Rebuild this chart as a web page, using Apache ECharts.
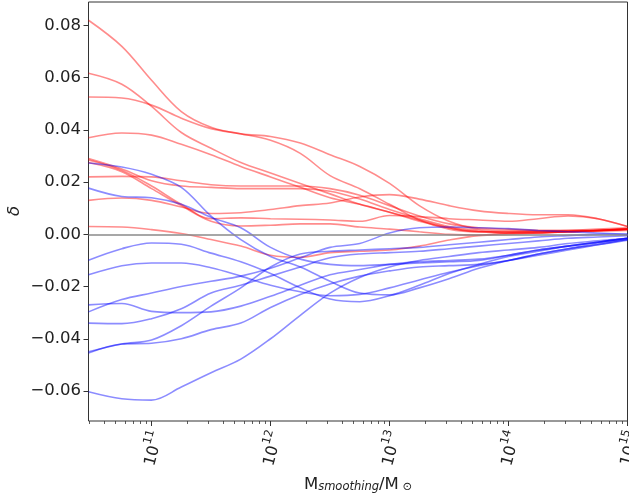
<!DOCTYPE html>
<html>
<head>
<meta charset="utf-8">
<script src="https://cdn.jsdelivr.net/npm/echarts@6/dist/echarts.min.js"></script>
<style>
html,body{margin:0;padding:0;background:#fff;}
#chart{width:629px;height:499px;}
</style>
</head>
<body>
<div id="chart"></div>
<script>
// x: log10(M_smoothing / M_sun)
var logMass = [10.47, 10.75, 11.0, 11.25, 11.5, 11.75, 12.0, 12.25, 12.5, 12.75, 13.0, 13.25, 13.5, 13.75, 14.0, 14.25, 14.5, 14.75, 15.0];

// red curves (delta)
var red1  = [0.0820, 0.0720, 0.0590, 0.0470, 0.0410, 0.0385, 0.0375, 0.0350, 0.0305, 0.0260, 0.0195, 0.0110, 0.0050, 0.0020, 0.0015, 0.0015, 0.0015, 0.0015, 0.0020];
var red2  = [0.0617, 0.0575, 0.0490, 0.0390, 0.0330, 0.0275, 0.0235, 0.0195, 0.0155, 0.0115, 0.0085, 0.0050, 0.0025, 0.0010, 0.0010, 0.0010, 0.0010, 0.0015, 0.0020];
var red3  = [0.0526, 0.0522, 0.0495, 0.0445, 0.0405, 0.0385, 0.0360, 0.0310, 0.0225, 0.0175, 0.0115, 0.0055, 0.0020, 0.0010, 0.0010, 0.0010, 0.0010, 0.0015, 0.0020];
var red4  = [0.0370, 0.0388, 0.0380, 0.0345, 0.0305, 0.0260, 0.0220, 0.0180, 0.0140, 0.0115, 0.0085, 0.0055, 0.0025, 0.0010, 0.0005, 0.0005, 0.0010, 0.0015, 0.0020];
var red5  = [0.0290, 0.0250, 0.0205, 0.0185, 0.0180, 0.0175, 0.0175, 0.0175, 0.0165, 0.0135, 0.0095, 0.0060, 0.0030, 0.0015, 0.0005, 0.0005, 0.0010, 0.0015, 0.0020];
var red6  = [0.0285, 0.0245, 0.0185, 0.0115, 0.0060, 0.0063, 0.0060, 0.0058, 0.0055, 0.0050, 0.0072, 0.0068, 0.0060, 0.0055, 0.0050, 0.0060, 0.0070, 0.0060, 0.0030];
var red7  = [0.0220, 0.0222, 0.0220, 0.0205, 0.0190, 0.0185, 0.0185, 0.0185, 0.0175, 0.0150, 0.0110, 0.0070, 0.0040, 0.0025, 0.0020, 0.0015, 0.0015, 0.0015, 0.0020];
var red8  = [0.0130, 0.0139, 0.0130, 0.0105, 0.0080, 0.0083, 0.0095, 0.0110, 0.0120, 0.0143, 0.0152, 0.0135, 0.0110, 0.0090, 0.0080, 0.0075, 0.0075, 0.0060, 0.0030];
var red9  = [0.0275, 0.0240, 0.0175, 0.0110, 0.0050, 0.0032, 0.0035, 0.0040, 0.0040, 0.0028, 0.0020, 0.0010, 0.0000, -0.0003, 0.0005, 0.0010, 0.0015, 0.0020, 0.0025];
var red10 = [0.0030, 0.0028, 0.0018, 0.0003, -0.0020, -0.0045, -0.0080, -0.0088, -0.0070, -0.0065, -0.0060, -0.0045, -0.0022, -0.0005, 0.0000, 0.0005, 0.0010, 0.0012, 0.0015];

// blue curves (delta)
var blue1  = [0.0273, 0.0258, 0.0230, 0.0180, 0.0070, -0.0020, -0.0085, -0.0125, -0.0180, -0.0225, -0.0232, -0.0205, -0.0170, -0.0130, -0.0100, -0.0075, -0.0055, -0.0040, -0.0022];
var blue2  = [0.0177, 0.0145, 0.0140, 0.0115, 0.0065, 0.0025, -0.0050, -0.0095, -0.0115, -0.0120, -0.0115, -0.0110, -0.0105, -0.0100, -0.0080, -0.0060, -0.0045, -0.0030, -0.0015];
var blue3  = [-0.0099, -0.0055, -0.0033, -0.0038, -0.0072, -0.0105, -0.0150, -0.0205, -0.0248, -0.0258, -0.0235, -0.0195, -0.0150, -0.0115, -0.0085, -0.0065, -0.0045, -0.0030, -0.0015];
var blue4  = [-0.0155, -0.0120, -0.0110, -0.0110, -0.0128, -0.0160, -0.0195, -0.0220, -0.0235, -0.0230, -0.0205, -0.0175, -0.0145, -0.0120, -0.0100, -0.0080, -0.0060, -0.0040, -0.0020];
var blue5  = [-0.0270, -0.0265, -0.0295, -0.0300, -0.0297, -0.0275, -0.0237, -0.0195, -0.0155, -0.0135, -0.0115, -0.0105, -0.0100, -0.0095, -0.0080, -0.0060, -0.0045, -0.0030, -0.0015];
var blue6  = [-0.0297, -0.0250, -0.0225, -0.0200, -0.0180, -0.0160, -0.0130, -0.0090, -0.0050, -0.0035, 0.0005, 0.0025, 0.0028, 0.0025, 0.0022, 0.0015, 0.0010, 0.0005, 0.0000];
var blue7  = [-0.0340, -0.0342, -0.0323, -0.0285, -0.0225, -0.0195, -0.0160, -0.0125, -0.0090, -0.0075, -0.0070, -0.0065, -0.0055, -0.0045, -0.0035, -0.0025, -0.0015, -0.0010, -0.0005];
var blue8  = [-0.0450, -0.0420, -0.0405, -0.0350, -0.0275, -0.0205, -0.0125, -0.0075, -0.0065, -0.0060, -0.0055, -0.0050, -0.0040, -0.0030, -0.0020, -0.0010, -0.0005, 0.0000, 0.0000];
var blue9  = [-0.0455, -0.0420, -0.0417, -0.0400, -0.0365, -0.0340, -0.0280, -0.0230, -0.0190, -0.0160, -0.0140, -0.0125, -0.0120, -0.0115, -0.0100, -0.0075, -0.0055, -0.0035, -0.0020];
var blue10 = [-0.0603, -0.0630, -0.0635, -0.0585, -0.0530, -0.0478, -0.0400, -0.0310, -0.0225, -0.0165, -0.0125, -0.0100, -0.0085, -0.0070, -0.0060, -0.0050, -0.0035, -0.0025, -0.0015];

var redSeries = [red1, red2, red3, red4, red5, red6, red7, red8, red9, red10];
var blueSeries = [blue1, blue2, blue3, blue4, blue5, blue6, blue7, blue8, blue9, blue10];

var xMajorTicks = [11, 12, 13, 14, 15];
var yTicks = [-0.06, -0.04, -0.02, 0.00, 0.02, 0.04, 0.06, 0.08];

var X_MIN = 10.47, X_MAX = 15.0;
var Y_MIN = -0.0715, Y_MAX = 0.089;

// minor ticks of a log axis: log10(k * 10^d), k = 2..9
var xMinorTicks = [];
for (var d = 10; d < 15; d++) {
  for (var k = 2; k <= 9; k++) {
    var v = d + Math.log10(k);
    if (v >= X_MIN && v <= X_MAX) xMinorTicks.push(v);
  }
}

function pairs(arr) {
  return arr.map(function (y, i) { return [logMass[i], y]; });
}

var series = [];
redSeries.forEach(function (arr) {
  series.push({
    type: 'line', data: pairs(arr), smooth: 0.35, showSymbol: false, symbol: 'none',
    lineStyle: { color: 'rgba(255,0,0,0.45)', width: 1.6 }, z: 3
  });
});
blueSeries.forEach(function (arr) {
  series.push({
    type: 'line', data: pairs(arr), smooth: 0.35, showSymbol: false, symbol: 'none',
    lineStyle: { color: 'rgba(0,0,255,0.45)', width: 1.6 }, z: 3
  });
});
// horizontal zero reference line
series[0].markLine = {
  silent: true, symbol: 'none', animation: false,
  label: { show: false },
  lineStyle: { color: '#8a8a8a', width: 1.5, type: 'solid' },
  data: [{ yAxis: 0 }]
};

var chart = echarts.init(document.getElementById('chart'), null, { renderer: 'canvas' });
chart.setOption({
  animation: false,
  backgroundColor: '#fff',
  grid: {
    left: 88.5, right: 1.5, top: 2, bottom: 78,
    containLabel: false, outerBoundsMode: 'none',
    show: true, borderColor: '#333', borderWidth: 1, backgroundColor: 'transparent'
  },
  xAxis: [{
    type: 'value', min: X_MIN, max: X_MAX,
    name: '{m|M}{s|smoothing}{m|/M}{o| \u2299}',
    nameLocation: 'middle', nameGap: 50, nameMoveOverlap: false,
    nameTextStyle: {
      rich: {
        m: { fontFamily: 'DejaVu Sans', fontSize: 16.5, color: '#222', lineHeight: 22, verticalAlign: 'bottom' },
        s: { fontFamily: 'DejaVu Sans', fontStyle: 'italic', fontSize: 11.5, color: '#222', lineHeight: 22, verticalAlign: 'bottom' },
        o: { fontFamily: 'DejaVu Sans', fontSize: 11.5, color: '#222', lineHeight: 22, verticalAlign: 'bottom' }
      }
    },
    axisLine: { show: false, onZero: false },
    splitLine: { show: false },
    axisTick: { show: true, customValues: xMajorTicks, length: 5, lineStyle: { color: '#333', width: 1 } },
    axisLabel: {
      show: true, customValues: xMajorTicks, rotate: 75, margin: 27,
      align: 'center', verticalAlign: 'middle',
      formatter: function (v) { return '{b|10}{p|' + v + '}'; },
      rich: {
        b: { fontFamily: 'DejaVu Sans', fontSize: 16, color: '#222', lineHeight: 22, verticalAlign: 'bottom' },
        p: { fontFamily: 'DejaVu Sans', fontSize: 11.5, color: '#222', lineHeight: 13, verticalAlign: 'top' }
      }
    }
  }, {
    type: 'value', min: X_MIN, max: X_MAX, gridIndex: 0, position: 'bottom',
    axisLine: { show: false, onZero: false }, splitLine: { show: false }, axisLabel: { show: false },
    axisTick: { show: true, customValues: xMinorTicks, length: 3, lineStyle: { color: '#333', width: 0.8 } }
  }],
  yAxis: {
    type: 'value', min: Y_MIN, max: Y_MAX,
    axisLine: { show: false, onZero: false },
    splitLine: { show: false },
    axisTick: { show: true, customValues: yTicks, length: 5, lineStyle: { color: '#333', width: 1 } },
    axisLabel: {
      show: true, customValues: yTicks, margin: 7.5,
      fontFamily: 'DejaVu Sans', fontSize: 16.5, color: '#222',
      formatter: function (v) {
        var a = Math.abs(v).toFixed(2);
        return (v < -1e-9 ? '\u2212' : '') + a;
      }
    }
  },
  graphic: [{
    type: 'text', x: 15, y: 211, rotation: Math.PI / 2,
    style: {
      text: '\u03b4', fontFamily: 'DejaVu Sans', fontStyle: 'italic', fontSize: 16.5,
      fill: '#222', align: 'center', verticalAlign: 'middle'
    }
  }],
  series: series
});
</script>
</body>
</html>
